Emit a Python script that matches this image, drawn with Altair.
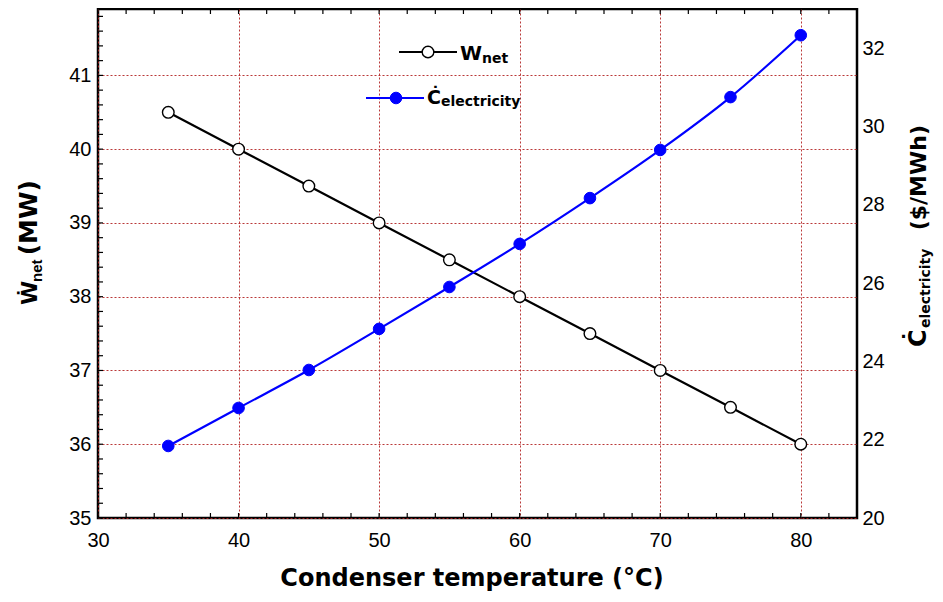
import altair as alt
import pandas as pd

# ---------------- data ----------------
temps = [35, 40, 45, 50, 55, 60, 65, 70, 75, 80]
w_net = [40.5, 40.0, 39.5, 39.0, 38.5, 38.0, 37.5, 37.0, 36.5, 36.0]
c_elec = [21.84, 22.81, 23.78, 24.83, 25.90, 27.00, 28.17, 29.40, 30.75, 32.33]

x_labels = [30, 40, 50, 60, 70, 80]
x_minor = [30, 32, 34, 36, 38, 40, 42, 44, 46, 48, 50, 52, 54, 56, 58, 60,
           62, 64, 66, 68, 70, 72, 74, 76, 78, 80, 82, 84]
w_labels = [35, 36, 37, 38, 39, 40, 41]
w_minor = [35.0, 35.2, 35.4, 35.6, 35.8, 36.0, 36.2, 36.4, 36.6, 36.8,
           37.0, 37.2, 37.4, 37.6, 37.8, 38.0, 38.2, 38.4, 38.6, 38.8,
           39.0, 39.2, 39.4, 39.6, 39.8, 40.0, 40.2, 40.4, 40.6, 40.8,
           41.0, 41.2, 41.4, 41.6, 41.8]
c_labels = [20, 22, 24, 26, 28, 30, 32]

legend_w = ["W", "net"]
legend_c = ["\u010a", "electricity"]
left_title = ["\u1e86", "net", "(MW)"]
right_title = ["\u010a", "electricity", "($/MWh)"]
x_title = ["Condenser temperature (\u00b0C)"]

# ---------------- layout / style ----------------
W, H = 759, 509
GRID = "#b22222"
LABEL_FONT = "Liberation Sans"
TITLE_FONT = "DejaVu Sans"

df = pd.DataFrame({"T": temps, "W": w_net, "C": c_elec})
one = pd.DataFrame({"a": [0]})

xs = alt.Scale(domain=[30, 84], nice=False, zero=False)
ws = alt.Scale(domain=[35, 41.9], nice=False, zero=False)
cs = alt.Scale(domain=[20, 33], nice=False, zero=False)

common = dict(title=None, domain=False, ticks=False, tickSize=0,
              labelFontSize=20, labelFont=LABEL_FONT, labelColor="black",
              labelFlush=False, labelOverlap=False,
              gridColor=GRID, gridDash=[2, 2], gridWidth=1, gridOpacity=0.9)

x_axis = alt.Axis(values=x_labels, grid=True, labelPadding=12, **common)
w_axis = alt.Axis(orient="left", values=w_labels, grid=True, labelPadding=7, **common)
c_axis = alt.Axis(orient="right", values=c_labels, grid=False, labelPadding=5, **common)

X = alt.X("T:Q", scale=xs, axis=x_axis)

# ---- W_net series ----
w_base = alt.Chart(df).encode(x=X, y=alt.Y("W:Q", scale=ws, axis=w_axis))
w_line = w_base.mark_line(color="black", strokeWidth=2.2)
w_pts = w_base.mark_point(shape="circle", filled=True, fill="white", stroke="black",
                          strokeWidth=1.4, size=135, opacity=1)

# ---- inward ticks ----
xm = pd.DataFrame({"v": x_minor})
bottom_ticks = alt.Chart(xm).mark_rule(color="black", strokeWidth=1.2).encode(
    x=alt.X("v:Q", scale=xs, axis=x_axis), y=alt.value(H), y2=alt.value(H - 5))
top_ticks = alt.Chart(xm).mark_rule(color="black", strokeWidth=1.2).encode(
    x=alt.X("v:Q", scale=xs, axis=x_axis), y=alt.value(0), y2=alt.value(5))
left_ticks = alt.Chart(pd.DataFrame({"v": w_minor})).mark_rule(color="black", strokeWidth=1.2).encode(
    y=alt.Y("v:Q", scale=ws, axis=w_axis), x=alt.value(0), x2=alt.value(5))


def txt(s, x, y, size, angle=0, align="left", font=TITLE_FONT):
    props = dict(font=font, fontWeight="bold", fontSize=size, align=align,
                 baseline="alphabetic", color="black")
    if angle:
        props["angle"] = angle
    return alt.Chart(pd.DataFrame({"t": [s]})).mark_text(**props).encode(
        text="t:N", x=alt.value(x), y=alt.value(y))


# ---- legend (drawn inside the plot) ----
leg = [
    alt.Chart(one).mark_rule(color="black", strokeWidth=2.2).encode(
        x=alt.value(301), x2=alt.value(359), y=alt.value(43)),
    alt.Chart(one).mark_point(shape="circle", filled=True, fill="white", stroke="black",
                              strokeWidth=1.4, size=135, opacity=1).encode(
        x=alt.value(330), y=alt.value(43)),
    txt(legend_w[0], 362, 51, 20),
    txt(legend_w[1], 384, 54, 14),
    alt.Chart(one).mark_rule(color="#0000ff", strokeWidth=2.2).encode(
        x=alt.value(268), x2=alt.value(326), y=alt.value(89)),
    alt.Chart(one).mark_point(shape="circle", filled=True, fill="#0000ff", stroke="#0000ff",
                              strokeWidth=1, size=135, opacity=1).encode(
        x=alt.value(298), y=alt.value(89)),
    txt(legend_c[0], 329, 95, 19),
    txt(legend_c[1], 343, 97, 14),
]

# ---- axis titles as text pieces ----
titles = [
    txt(x_title[0], 374, 577, 24, align="center"),
    txt(left_title[0], -61, 296, 22, angle=270),
    txt(left_title[1], -56, 273, 15, angle=270, font=LABEL_FONT),
    txt(left_title[2], -61, 171, 25, angle=270, align="right"),
    txt(right_title[0], 828, 338, 24, angle=270),
    txt(right_title[1], 832, 319, 14, angle=270),
    txt(right_title[2], 828, 116, 22, angle=270, align="right"),
]

w_group = alt.layer(w_line, w_pts, bottom_ticks, top_ticks, left_ticks, *leg, *titles)

# ---- C_electricity series ----
c_base = alt.Chart(df).encode(x=X, y=alt.Y("C:Q", scale=cs, axis=c_axis))
c_line = c_base.mark_line(color="#0000ff", strokeWidth=2.2, interpolate="monotone")
c_pts = c_base.mark_point(shape="circle", filled=True, fill="#0000ff", stroke="#0000ff",
                          strokeWidth=1, size=135, opacity=1)
c_group = alt.layer(c_line, c_pts)

chart = alt.layer(w_group, c_group).resolve_scale(y="independent").properties(
    width=W, height=H,
    padding={"left": 90, "top": 1, "right": 78, "bottom": 75},
    autosize=alt.AutoSizeParams(type="none"),
    background="white",
).configure_view(stroke="black", strokeWidth=2.5)

chart.save("out.html", embed_options={"renderer": "svg", "actions": False})
